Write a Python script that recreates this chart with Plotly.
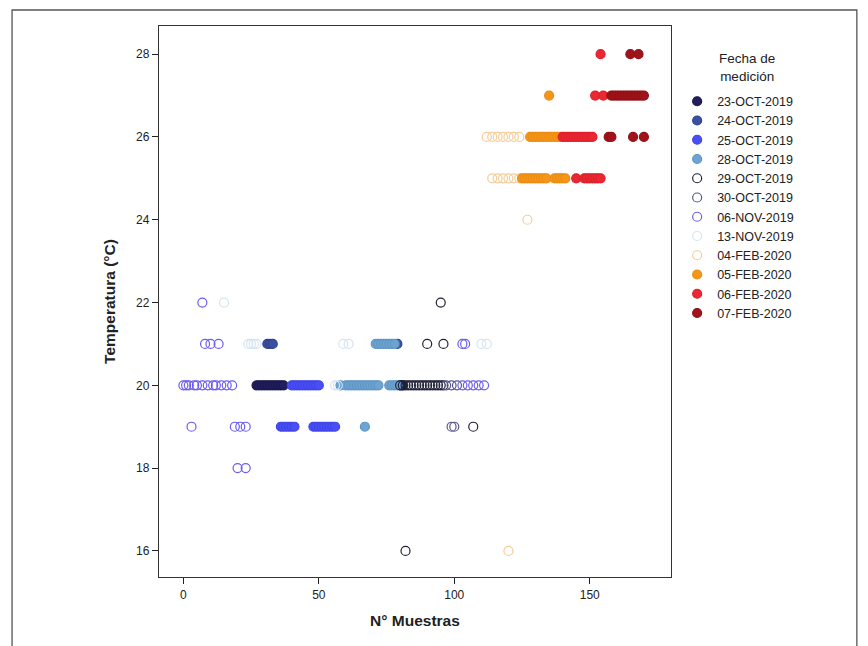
import plotly.graph_objects as go

# Sample number (N° Muestras) and temperature (°C) for each measurement date
dates = ["23-OCT-2019", "24-OCT-2019", "25-OCT-2019", "28-OCT-2019",
         "29-OCT-2019", "30-OCT-2019", "06-NOV-2019", "13-NOV-2019",
         "04-FEB-2020", "05-FEB-2020", "06-FEB-2020", "07-FEB-2020"]

x_23oct = [27, 28, 29, 30, 31, 32, 33, 34, 35, 36, 37, 80, 81]
y_23oct = [20, 20, 20, 20, 20, 20, 20, 20, 20, 20, 20, 20, 20]

x_24oct = [31, 32, 33, 79]
y_24oct = [21, 21, 21, 21]

x_25oct = [40, 41, 42, 43, 44, 45, 46, 47, 48, 49, 50,
           36, 37, 38, 39, 40, 41, 48, 49, 50, 51, 52, 53, 54, 55, 56]
y_25oct = [20, 20, 20, 20, 20, 20, 20, 20, 20, 20, 20,
           19, 19, 19, 19, 19, 19, 19, 19, 19, 19, 19, 19, 19, 19, 19]

x_28oct = [58, 60, 61, 62, 63, 64, 65, 66, 67, 68, 69, 70, 71, 72,
           76, 77, 78, 79, 71, 72, 73, 74, 75, 76, 77, 78, 67]
y_28oct = [20, 20, 20, 20, 20, 20, 20, 20, 20, 20, 20, 20, 20, 20,
           20, 20, 20, 20, 21, 21, 21, 21, 21, 21, 21, 21, 19]

x_29oct = [95, 90, 96, 80, 81, 82, 83, 84, 85, 86, 87, 88, 89, 90, 91, 92,
           93, 94, 95, 96, 82, 107]
y_29oct = [22, 21, 21, 20, 20, 20, 20, 20, 20, 20, 20, 20, 20, 20, 20, 20,
           20, 20, 20, 20, 16, 19]

x_30oct = [97, 99, 101, 99, 100]
y_30oct = [20, 20, 20, 19, 19]

x_06nov = [7, 8, 10, 13, 0, 1, 2, 4, 5, 7, 9, 11, 12, 14, 16, 18,
           103, 105, 107, 109, 111, 103, 104, 3, 19, 21, 23, 20, 23]
y_06nov = [22, 21, 21, 21, 20, 20, 20, 20, 20, 20, 20, 20, 20, 20, 20, 20,
           20, 20, 20, 20, 20, 21, 21, 19, 19, 19, 19, 18, 18]

x_13nov = [15, 24, 25, 26, 27, 59, 61, 110, 112, 56, 57]
y_13nov = [22, 21, 21, 21, 21, 21, 21, 21, 21, 20, 20]

x_04feb = [112, 114, 116, 118, 120, 122, 124,
           114, 116, 118, 120, 122, 124, 127, 120]
y_04feb = [26, 26, 26, 26, 26, 26, 26,
           25, 25, 25, 25, 25, 25, 24, 16]

x_05feb = [135, 128, 129, 130, 131, 132, 133, 134, 135, 136, 137, 138, 139,
           125, 126, 127, 128, 129, 130, 131, 132, 133, 134,
           137, 138, 139, 140, 141]
y_05feb = [27, 26, 26, 26, 26, 26, 26, 26, 26, 26, 26, 26, 26,
           25, 25, 25, 25, 25, 25, 25, 25, 25, 25,
           25, 25, 25, 25, 25]

x_06feb = [154, 152, 155, 140, 141, 142, 143, 144, 145, 146, 147, 148, 149,
           150, 151, 145, 148, 149, 150, 151, 152, 153, 154]
y_06feb = [28, 27, 27, 26, 26, 26, 26, 26, 26, 26, 26, 26, 26,
           26, 26, 25, 25, 25, 25, 25, 25, 25, 25]

x_07feb = [165, 168, 158, 159, 160, 161, 162, 163, 164, 165, 166, 167, 168,
           169, 170, 157, 158, 166, 170]
y_07feb = [28, 28, 27, 27, 27, 27, 27, 27, 27, 27, 27, 27, 27,
           27, 27, 26, 26, 26, 26]

x_ticks = [0, 50, 100, 150]
y_ticks = [16, 18, 20, 22, 24, 26, 28]

series = [
    (x_23oct, y_23oct, "circle", "#221e5c", "#1a1650"),
    (x_24oct, y_24oct, "circle", "#3b4f9f", "#2f4290"),
    (x_25oct, y_25oct, "circle", "#4a4ff5", "#3f44e6"),
    (x_28oct, y_28oct, "circle", "#6ea4d2", "#5f95c4"),
    (x_29oct, y_29oct, "circle-open", None, "#222238"),
    (x_30oct, y_30oct, "circle-open", None, "#56568c"),
    (x_06nov, y_06nov, "circle-open", None, "#6a5cf0"),
    (x_13nov, y_13nov, "circle-open", None, "#d3e4f1"),
    (x_04feb, y_04feb, "circle-open", None, "#f5cc98"),
    (x_05feb, y_05feb, "circle", "#f5961a", "#ec8c12"),
    (x_06feb, y_06feb, "circle", "#ea2833", "#df1f2b"),
    (x_07feb, y_07feb, "circle", "#a1131a", "#921016"),
]

fig = go.Figure()
for name, (xs, ys, sym, fill, edge) in zip(dates, series):
    marker = dict(symbol=sym, size=9, line=dict(color=edge, width=1.2))
    marker["color"] = fill if fill is not None else edge
    fig.add_trace(go.Scatter(x=xs, y=ys, mode="markers", name=name,
                             marker=marker))

font_family = "Liberation Sans, Arial, sans-serif"

fig.update_layout(
    width=868, height=646,
    margin=dict(l=159, r=197, t=26, b=69),
    paper_bgcolor="white", plot_bgcolor="white",
    font=dict(family=font_family, size=12, color="#222222"),
    showlegend=True,
    legend=dict(
        x=1.012, y=0.89, xanchor="left", yanchor="top",
        font=dict(size=12.5, color="#222222"),
        itemwidth=30, tracegroupgap=0,
        bgcolor="rgba(0,0,0,0)",
    ),
    annotations=[
        # legend heading, centred over the entries
        dict(text="Fecha de<br>medición", xref="paper", yref="paper",
             x=1.148, y=0.958, xanchor="center", yanchor="top",
             showarrow=False, align="center",
             font=dict(size=13.5, color="#222222")),
    ],
    xaxis=dict(
        range=[-9, 180], tickvals=x_ticks, ticks="outside", ticklen=6,
        tickcolor="#222222", showgrid=False, zeroline=False,
        showline=True, linecolor="#333333", linewidth=1.3, mirror=True,
        title=dict(text="<b>N° Muestras</b>", font=dict(size=15.5),
                   standoff=14),
        tickfont=dict(size=12),
    ),
    yaxis=dict(
        range=[15.37, 28.68], tickvals=y_ticks, ticks="outside", ticklen=6,
        tickcolor="#222222", showgrid=False, zeroline=False,
        showline=True, linecolor="#333333", linewidth=1.3, mirror=True,
        title=dict(text="<b>Temperatura (°C)</b>", font=dict(size=15.5),
                   standoff=16),
        tickfont=dict(size=12),
    ),
    shapes=[
        # outer frame around the whole figure
        dict(type="rect", xref="paper", yref="paper",
             x0=-0.287, x1=1.363, y0=-0.14, y1=1.029,
             line=dict(color="#555555", width=1.3), layer="below"),
    ],
)

fig.write_html("out.html")
